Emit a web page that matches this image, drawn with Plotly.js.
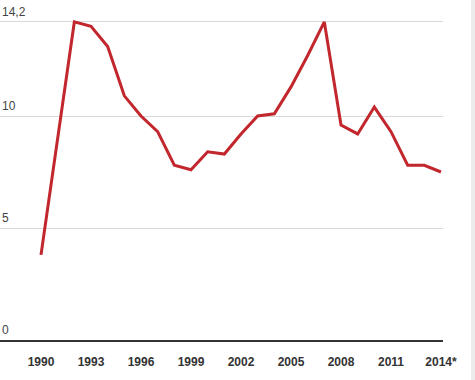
<!DOCTYPE html>
<html>
<head>
<meta charset="utf-8">
<script src="https://cdn.plot.ly/plotly-3.0.1.min.js"></script>
<style>
html,body{margin:0;padding:0;background:#fff;}
#chart{width:475px;height:380px;}
</style>
</head>
<body>
<div id="chart"></div>
<script>
const years = [1990,1991,1992,1993,1994,1995,1996,1997,1998,1999,2000,2001,2002,2003,2004,2005,2006,2007,2008,2009,2010,2011,2012,2013,2014];
const values = [3.8,9.0,14.2,14.0,13.1,10.9,10.0,9.3,7.8,7.6,8.4,8.3,9.2,10.0,10.1,11.3,12.7,14.2,9.6,9.2,10.4,9.3,7.8,7.8,7.5];
const xTickVals = [1990,1993,1996,1999,2002,2005,2008,2011,2014];
const xTickText = ['1990','1993','1996','1999','2002','2005','2008','2011','2014*'];
const yTickVals = [0,5,10,14.2];
const yTickText = ['0','5','10','14,2'];

const trace = {
  x: years, y: values, type: 'scatter', mode: 'lines',
  line: {color: '#c1272d', width: 3},
  hoverinfo: 'skip', cliponaxis: false
};

const annotations = yTickVals.map((v, i) => ({
  xref: 'paper', yref: 'y', x: 0, y: v, xanchor: 'left', yanchor: 'middle',
  yshift: 10, text: yTickText[i], showarrow: false,
  font: {family: 'Arial, Liberation Sans, sans-serif', size: 12, color: '#444'}
}));

const layout = {
  width: 475, height: 380,
  margin: {l: 0, r: 32, t: 4, b: 40},
  paper_bgcolor: '#fff', plot_bgcolor: '#fff',
  showlegend: false,
  xaxis: {
    range: [1987.54, 2014.12],
    tickvals: xTickVals, ticktext: xTickText,
    showgrid: false, zeroline: false,
    showline: true, linecolor: '#333', linewidth: 1.5,
    ticks: '', ticklabelstandoff: 10,
    tickfont: {family: 'Arial, Liberation Sans, sans-serif', size: 12, color: '#333', weight: 'bold'}
  },
  yaxis: {
    range: [0, 15],
    tickvals: [5, 10, 14.2],
    showticklabels: false,
    showgrid: true, gridcolor: '#d9d9d9', gridwidth: 1,
    zeroline: false, showline: false, ticks: ''
  },
  annotations: annotations,
  shapes: [{
    type: 'rect', xref: 'paper', yref: 'paper',
    x0: 0, x1: 1, y0: 0, y1: 1, layer: 'below', line: {width: 0}, fillcolor: 'rgba(0,0,0,0)'
  }]
};

Plotly.newPlot('chart', [trace], layout, {staticPlot: true, displayModeBar: false});

// light gray strip at the right edge of the page
const strip = document.createElement('div');
strip.style.cssText = 'position:absolute;left:471px;top:0;width:4px;height:380px;background:#ececec;';
document.body.appendChild(strip);
</script>
</body>
</html>
